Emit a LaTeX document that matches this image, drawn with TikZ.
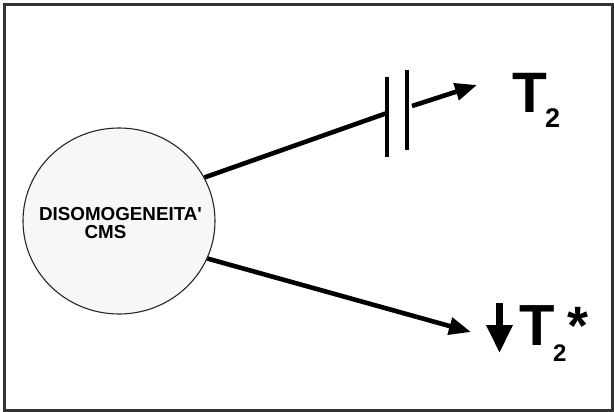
\documentclass[tikz,border=0pt]{standalone}
\usepackage{fontspec}
\setmainfont{Liberation Sans}
\usetikzlibrary{arrows.meta,shapes.geometric}
\tikzset{
  frame/.style={draw=black!80, line width=2.2pt},
  blob/.style={ellipse, draw=black!85, fill=black!3, line width=1.1pt, minimum width=192pt, minimum height=186pt, inner sep=0pt},
  conn/.style={line width=4.6pt},
  plate/.style={line width=3.6pt},
  headarrow/.style={-{Triangle[length=22pt,width=17pt]}},
  lbl/.style={inner sep=0pt, anchor=base west, font=\bfseries},
  small/.style={inner sep=0pt, anchor=base, font=\fontsize{18.8}{20}\selectfont\bfseries},
}
\begin{document}
\begin{tikzpicture}[x=1pt,y=-1pt]
\useasboundingbox (0,0) rectangle (614,412);
\draw[frame] (4.5,4.5) rectangle (612.5,410.5);
\node[blob] (c) at (119,221) {};
\node[small] (t1) at (120.5,220) {DISOMOGENEITA\textquotesingle};
\node[small] (t2) at (105.5,238) {CMS};
% upper branch with capacitor
\coordinate (p1) at (387,113);
\coordinate (p2) at (412,106);
\coordinate (e1) at (477,85);
\draw[conn] (c.27) -- (p1);
\draw[plate] (387,77) -- (387,157);
\draw[plate] (407,70) -- (407,150);
\draw[conn, headarrow] (p2) -- (e1);
\node[lbl, font=\fontsize{57}{57}\selectfont\bfseries] (T1) at (512,113) {T};
\node[lbl, font=\fontsize{27}{27}\selectfont\bfseries] (s1) at (545,128) {2};
% lower branch
\coordinate (e2) at (471,332);
\draw[conn, headarrow] (c.-23) -- (e2);
\coordinate (d1) at (499.5,303);
\coordinate (d2) at (499.5,353);
\draw[line width=6.5pt, -{Triangle[length=28pt,width=25pt]}] (d1) -- (d2);
\node[lbl, font=\fontsize{58}{58}\selectfont\bfseries] (T2) at (519,345) {T};
\node[lbl, font=\fontsize{24}{24}\selectfont\bfseries] (s2) at (553,361) {2};
\node[lbl, font=\fontsize{54}{54}\selectfont\bfseries] (st) at (567,344) {*};
\end{tikzpicture}
\end{document}
